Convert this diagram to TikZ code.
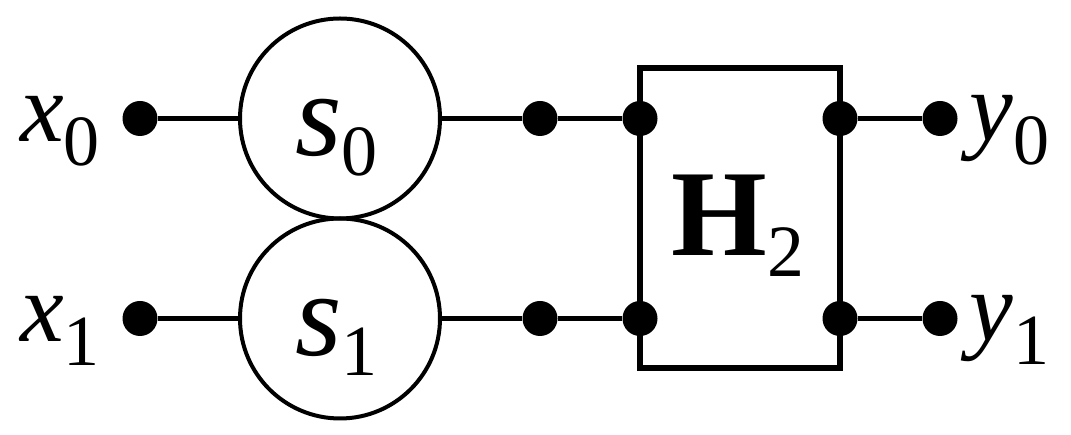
\documentclass[tikz,border=0pt]{standalone}
\usepackage{amsmath}
\usepackage{fontspec}
\setmainfont{Liberation Serif}
\usetikzlibrary{positioning}
\newcommand{\sublab}[3]{\textit{#1}\raisebox{-#3}{\fontsize{20.5}{20.5}\selectfont #2}}
\tikzset{
  dotnode/.style={circle, fill=black, inner sep=0pt, minimum size=0.35cm},
  statenode/.style={circle, draw, line width=0.04cm, inner sep=0pt, minimum size=2cm},
  wire/.style={line width=0.045cm},
  lab/.style={inner sep=0pt, font=\fontsize{28}{28}\selectfont},
  biglab/.style={inner sep=0pt, font=\fontsize{34}{34}\selectfont}
}
\begin{document}
\begin{tikzpicture}[x=0.1cm, y=-0.1cm]
        \useasboundingbox (0,0) rectangle (107.1,43.5);
        % Posizioni dei nodi
        \node[dotnode] (x0) at (14,11.85) {};
        \node[dotnode] (x1) at (14,31.85) {};
        \node[statenode] (s0) at (34,11.85) {};
        \node[statenode] (s1) at (34,31.85) {};
        \node[dotnode] (a0) at (54,11.85) {};
        \node[dotnode] (a1) at (54,31.85) {};
        \node[draw, line width=0.06cm, minimum width=2cm, minimum height=3cm, inner sep=0pt] (H) at (74,21.85) {};
        \node[dotnode] (b0) at (64,11.85) {};
        \node[dotnode] (b1) at (64,31.85) {};
        \node[dotnode] (c0) at (84,11.85) {};
        \node[dotnode] (c1) at (84,31.85) {};
        \node[dotnode] (y0) at (94,11.85) {};
        \node[dotnode] (y1) at (94,31.85) {};
        % Etichette
        \node[lab, anchor=base] (lx0) at (6,14.2) {\sublab{x}{0}{0.24cm}};
        \node[lab, anchor=base] (lx1) at (6,34.2) {\sublab{x}{1}{0.24cm}};
        \node[biglab, anchor=base] (ls0) at (33.65,15.6) {\sublab{s}{0}{0.2cm}};
        \node[biglab, anchor=base] (ls1) at (33.65,35.6) {\sublab{s}{1}{0.2cm}};
        \node[biglab, anchor=base] (lH) at (73.8,25.6) {\fontsize{35}{35}\selectfont\textbf{H}\raisebox{-0.21cm}{\fontsize{21}{21}\selectfont 2}};
        \node[lab, anchor=base] (ly0) at (100.95,14.1) {\sublab{y}{0}{0.24cm}};
        \node[lab, anchor=base] (ly1) at (100.95,34.1) {\sublab{y}{1}{0.24cm}};
        % Archi
        \draw[wire] (x0) -- (s0);
        \draw[wire] (x1) -- (s1);
        \draw[wire] (s0) -- (a0);
        \draw[wire] (s1) -- (a1);
        \draw[wire] (a0) -- (b0);
        \draw[wire] (a1) -- (b1);
        \draw[wire] (c0) -- (y0);
        \draw[wire] (c1) -- (y1);
    \end{tikzpicture}
\end{document}
